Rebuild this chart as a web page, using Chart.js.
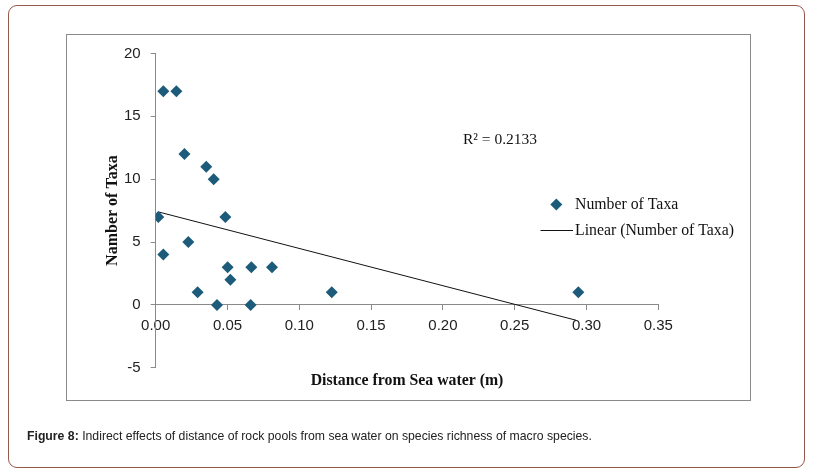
<!DOCTYPE html>
<html>
<head>
<meta charset="utf-8">
<script src="https://cdn.jsdelivr.net/npm/chart.js@4/dist/chart.umd.min.js"></script>
<style>
  html, body { margin: 0; padding: 0; background: #fff; }
  #page { position: relative; width: 816px; height: 475px; overflow: hidden; }
  #outer {
    position: absolute; left: 8px; top: 5px; width: 797px; height: 463px;
    border: 1.5px solid #94594b; border-radius: 9px; box-sizing: border-box;
  }
  #frame {
    position: absolute; left: 66px; top: 34px; width: 685px; height: 367px;
    border: 1px solid #8a8a8a; box-sizing: border-box;
  }
  #wrap { position: absolute; left: 0; top: 0; width: 816px; height: 475px; }
  #caption {
    position: absolute; left: 27px; top: 429px;
    font-family: "Liberation Sans", Arial, sans-serif; font-size: 12.25px; color: #222;
    white-space: nowrap;
  }
</style>
</head>
<body>
<div id="page">
  <div id="outer"></div>
  <div id="frame"></div>
  <div id="wrap"><canvas id="chart"></canvas></div>
  <div id="caption"><b>Figure 8:</b> Indirect effects of distance of rock pools from sea water on species richness of macro species.</div>
</div>
<script>
// distance from sea water (m) and number of taxa
const distance = [0.0053, 0.0144, 0.0200, 0.0352, 0.0404, 0.0018, 0.0485, 0.0227, 0.0053,
                  0.0501, 0.0666, 0.0810, 0.0520, 0.0292, 0.1226, 0.0427, 0.0661, 0.2943];
const taxa = [17, 17, 12, 11, 10, 7, 7, 5, 4, 3, 3, 3, 2, 1, 1, 0, 0, 1];

// linear trendline end points as drawn in the figure
const trendX = [0.0018, 0.2927];
const trendY = [7.4, -1.22];
const rSquared = 'R² = 0.2133';

const xTicks = [0, 0.05, 0.10, 0.15, 0.20, 0.25, 0.30, 0.35];
const yTicks = [-5, 0, 5, 10, 15, 20];

const pts = distance.map((d, i) => ({ x: d, y: taxa[i] }));
const trend = trendX.map((d, i) => ({ x: d, y: trendY[i] }));

const serif = '"Liberation Serif", "Times New Roman", serif';
const sans = '"Liberation Sans", Arial, sans-serif';

// legend + R² label drawn inside the plot frame like the original
const overlay = {
  id: 'overlay',
  afterDraw(chart) {
    const ctx = chart.ctx;
    const ds = chart.data.datasets;
    ctx.save();
    ctx.font = '15.5px ' + serif;
    ctx.fillStyle = '#111';
    ctx.textBaseline = 'middle';
    ctx.textAlign = 'center';
    ctx.fillText(rSquared, 500, 140);

    ctx.font = '15.8px ' + serif;
    ctx.textAlign = 'left';
    // marker entry
    ctx.fillStyle = ds[0].backgroundColor;
    ctx.beginPath();
    ctx.moveTo(556.3 - 6, 204.5);
    ctx.lineTo(556.3, 204.5 - 6);
    ctx.lineTo(556.3 + 6, 204.5);
    ctx.lineTo(556.3, 204.5 + 6);
    ctx.closePath();
    ctx.fill();
    ctx.fillStyle = '#111';
    ctx.fillText(ds[0].label, 575, 205);
    // line entry
    ctx.strokeStyle = ds[1].borderColor;
    ctx.lineWidth = 1;
    ctx.beginPath();
    ctx.moveTo(540.5, 230.5);
    ctx.lineTo(573, 230.5);
    ctx.stroke();
    ctx.fillText(ds[1].label, 575, 231);
    ctx.restore();
  }
};

new Chart(document.getElementById('chart').getContext('2d'), {
  type: 'scatter',
  data: {
    datasets: [{
      label: 'Number of Taxa',
      data: pts,
      pointStyle: 'rectRot',
      pointRadius: 6,
      pointHoverRadius: 6,
      backgroundColor: '#1d5b7a',
      borderColor: '#1d5b7a',
      borderWidth: 0
    }, {
      label: 'Linear (Number of Taxa)',
      data: trend,
      showLine: true,
      pointRadius: 0,
      borderColor: '#111',
      borderWidth: 1
    }]
  },
  options: {
    responsive: true,
    maintainAspectRatio: false,
    animation: false,
    layout: { padding: { left: 103, right: 157.7, top: 53.5, bottom: 84.3 } },
    plugins: { legend: { display: false }, tooltip: { enabled: false } },
    scales: {
      x: {
        type: 'linear',
        position: { y: 0 },
        min: 0, max: 0.35,
        afterBuildTicks: s => { s.ticks = xTicks.map(v => ({ value: v })); },
        ticks: { font: { family: sans, size: 15 }, color: '#222', padding: 7,
                 callback: v => v.toFixed(2), maxRotation: 0, autoSkip: false },
        grid: { drawOnChartArea: false, drawTicks: true, tickLength: 5, color: '#8a8a8a' },
        border: { color: '#8a8a8a', width: 1 }
      },
      xTitle: {
        type: 'linear',
        position: 'bottom',
        min: 0, max: 0.35,
        ticks: { display: false },
        grid: { display: false, drawTicks: false },
        border: { display: false },
        title: { display: true, text: 'Distance from Sea water (m)', color: '#111',
                 font: { family: serif, size: 15.8, weight: 'bold' }, padding: { top: 4, bottom: 0 } }
      },
      y: {
        type: 'linear',
        position: 'left',
        min: -5, max: 20,
        afterBuildTicks: s => { s.ticks = yTicks.map(v => ({ value: v })); },
        afterFit: s => { s.width = 52.7; },
        ticks: { font: { family: sans, size: 15 }, color: '#222', padding: 10 },
        grid: { drawOnChartArea: false, drawTicks: true, tickLength: 5, color: '#8a8a8a' },
        border: { color: '#8a8a8a', width: 1 },
        title: { display: true, text: 'Namber of Taxa', color: '#111',
                 font: { family: serif, size: 16, weight: 'bold' }, padding: { top: 0, bottom: 0 } }
      }
    }
  },
  plugins: [overlay]
});
</script>
</body>
</html>
